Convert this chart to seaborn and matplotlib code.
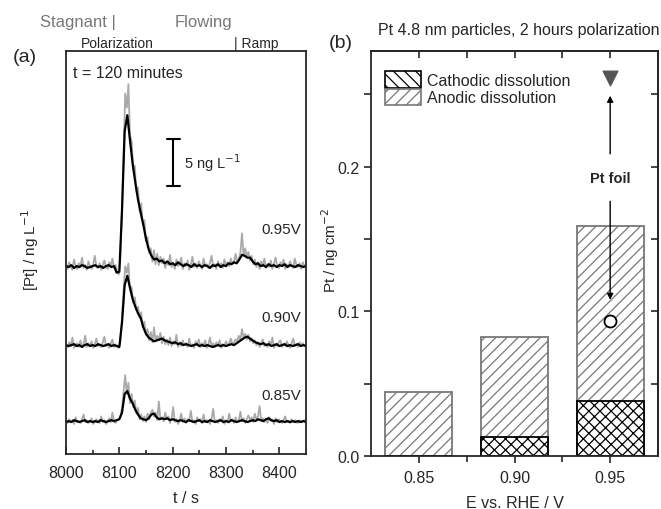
import numpy as np
import pandas as pd
import matplotlib
matplotlib.use("Agg")
import matplotlib.pyplot as plt
from matplotlib.patches import Patch
import seaborn as sns

# ---------------- data ----------------
# smoothed traces (ng/L above baseline), 5 s spacing, 8000..8450 s
smooth_095 = [0.1,0.0,0.2,-0.1,0.1,0.0,0.2,0.1,-0.1,0.0,0.1,0.2,0.0,0.1,-0.1,0.1,0.2,0.0,0.1,-0.6,
              -0.5,6.0,14.5,16.2,13.5,11.0,9.0,7.2,5.8,4.5,3.0,1.9,1.2,0.8,0.9,0.6,0.7,0.4,0.6,0.3,
              0.4,0.2,0.5,0.3,0.1,0.3,0.2,0.0,0.3,0.1,0.2,0.0,0.2,0.1,-0.1,0.2,0.1,0.3,0.0,0.2,
              0.1,0.4,0.3,0.5,0.4,0.8,1.3,1.2,1.0,1.0,0.6,0.3,0.4,0.1,0.2,0.0,0.3,0.1,0.2,0.0,
              0.2,0.1,0.3,0.0,0.2,0.1,0.0,0.2,0.1,0.0,0.1]
smooth_090 = [0.1,0.0,0.1,0.2,0.0,0.1,-0.1,0.1,0.2,0.0,0.1,0.0,0.2,0.1,0.0,0.1,0.2,0.0,0.1,0.0,
              -0.1,2.5,6.5,7.5,6.2,5.0,4.2,3.5,3.0,2.0,1.3,0.9,0.7,0.5,0.6,0.7,0.8,0.6,0.5,0.4,
              0.3,0.4,0.2,0.3,0.1,0.2,0.1,0.0,0.1,0.2,0.0,0.1,0.0,0.1,0.0,-0.1,0.0,0.1,0.0,0.1,
              0.0,0.1,0.2,0.1,0.3,0.5,0.7,0.9,1.0,0.8,0.6,0.4,0.3,0.2,0.3,0.1,0.2,0.0,0.1,0.2,
              0.0,0.1,0.2,0.0,0.1,0.0,0.1,0.2,0.0,0.1,0.0]
smooth_085 = [0.0,0.1,0.0,0.2,0.1,0.0,0.1,0.2,0.0,0.1,0.0,0.1,0.0,0.2,0.1,0.0,0.1,0.2,0.1,0.2,
              0.3,1.0,3.0,3.3,2.5,2.0,1.3,0.8,0.4,0.3,0.2,0.4,0.8,0.9,0.5,0.3,0.4,0.3,0.4,0.2,
              0.3,0.2,0.1,0.2,0.1,0.0,0.2,0.1,0.0,0.1,0.2,0.0,0.1,0.0,0.2,0.1,0.0,0.1,0.2,0.0,
              0.1,0.0,0.2,0.1,0.0,0.1,0.2,0.1,0.0,0.1,0.2,0.1,0.3,0.2,0.1,0.3,0.4,0.2,0.1,0.2,
              0.0,0.1,0.0,0.1,0.0,0.1,0.0,0.1,0.0,0.1,0.0]

# raw traces (ng/L above baseline), 3 s spacing, 8000..8450 s
raw_095 = [0.3,-0.2,0.5,0.0,-0.3,0.8,0.1,-0.2,0.4,0.0,1.0,-0.1,0.2,-0.3,0.6,0.1,-0.2,0.3,1.2,0.0,
           -0.1,0.4,-0.3,0.2,0.7,0.0,-0.2,0.5,0.1,0.9,-0.1,0.2,-0.5,-0.8,1.0,6.5,12.0,18.5,17.0,19.5,
           14.0,13.5,10.5,10.8,8.0,8.5,6.0,6.8,4.5,5.0,2.8,3.2,1.5,2.0,0.6,1.8,0.3,1.4,0.2,1.1,
           0.4,0.9,-0.1,0.6,0.2,1.3,0.0,0.5,-0.2,0.8,0.1,0.3,1.0,-0.2,0.4,0.1,0.7,-0.3,0.2,1.1,
           0.0,0.4,-0.1,0.6,0.2,-0.2,0.9,0.1,0.3,-0.1,0.5,1.2,0.0,0.3,-0.2,0.6,0.1,0.4,-0.1,0.8,
           0.2,0.5,0.1,0.9,0.3,0.6,1.4,0.4,0.9,1.5,3.6,1.2,2.0,1.0,1.6,0.7,1.2,0.3,0.8,0.0,
           0.5,-0.2,0.6,0.1,0.9,-0.1,0.3,0.0,0.7,-0.2,0.4,1.0,0.1,-0.1,0.5,0.2,0.8,-0.2,0.3,0.0,
           0.6,0.1,-0.1,0.9,0.2,0.0,0.4,-0.2,0.5,0.1,0.3]
raw_090 = [0.2,-0.1,0.4,0.0,0.9,-0.2,0.1,0.3,-0.1,0.6,0.0,0.2,1.1,-0.1,0.3,0.0,0.5,-0.2,0.2,0.8,
           0.0,0.1,-0.1,0.4,1.0,0.0,0.2,-0.2,0.3,0.7,-0.1,0.2,0.0,-0.2,0.5,3.0,6.0,8.5,7.8,8.8,
           6.0,6.3,4.6,5.2,3.8,4.2,3.0,3.6,2.0,2.6,1.2,1.8,0.6,1.5,0.4,2.0,0.5,1.1,0.6,1.4,
           0.3,1.0,0.2,0.7,0.1,0.9,0.0,0.5,0.2,1.2,-0.1,0.4,0.0,0.6,0.1,0.3,-0.1,0.8,0.0,0.2,
           -0.2,0.5,0.1,0.7,-0.1,0.3,0.0,0.6,-0.2,0.2,0.9,0.0,0.3,-0.1,0.4,0.1,0.6,-0.2,0.2,0.0,
           0.5,0.1,0.3,0.8,0.2,0.4,0.7,0.5,1.1,0.6,1.8,0.9,1.3,0.7,1.2,0.5,0.8,0.3,0.6,0.1,
           0.4,-0.1,0.3,0.7,0.0,0.2,-0.1,0.5,0.1,0.9,-0.2,0.2,0.0,0.4,0.6,-0.1,0.2,0.0,0.5,0.1,
           -0.2,0.3,0.8,0.0,0.2,-0.1,0.4,0.1,0.3,0.0,0.2]
raw_085 = [0.1,-0.1,0.3,0.0,0.2,-0.2,0.5,0.0,0.1,-0.1,0.3,0.8,0.0,0.2,-0.1,0.1,0.4,-0.2,0.0,0.3,
           0.1,-0.1,0.6,0.0,0.2,-0.2,0.1,0.4,0.0,1.0,0.1,-0.1,0.2,0.3,0.6,1.5,3.2,5.0,3.0,4.2,
           2.0,3.0,1.6,2.3,0.9,1.5,0.3,0.8,0.1,0.6,0.0,0.9,0.3,1.0,1.3,0.6,1.0,0.2,2.2,0.3,
           0.5,0.1,1.0,0.3,0.6,-0.1,0.4,1.6,0.0,0.3,-0.2,0.2,0.9,0.0,0.4,-0.1,0.3,0.1,1.2,0.0,
           0.2,-0.2,0.5,0.1,0.3,-0.1,0.8,0.0,0.2,0.1,-0.2,0.4,1.4,0.0,0.2,-0.1,0.3,0.1,0.6,-0.2,
           0.2,0.0,0.9,0.1,0.3,-0.1,0.5,0.0,0.2,1.1,0.1,0.4,-0.1,0.3,0.7,0.2,0.5,0.0,0.9,0.3,
           0.6,1.7,0.2,0.4,0.0,0.3,-0.1,0.5,0.1,0.2,-0.2,0.4,0.0,0.3,0.1,-0.1,0.2,0.6,0.0,0.1,
           -0.1,0.3,0.0,0.2,0.1,-0.1,0.2,0.0,0.1,0.2,0.0]

trace_labels = ["0.95V", "0.90V", "0.85V"]

# panel (b)
potentials = ["0.85", "0.90", "0.95"]
total_dissolution = [0.044, 0.082, 0.159]     # anodic + cathodic (bar top)
cathodic_dissolution = [0.0, 0.013, 0.038]
pt_foil_cathodic = 0.261   # triangle
pt_foil_anodic = 0.093     # circle
scale_bar_value = 5

# ---------------- style ----------------
sns.set_theme(style="ticks")
plt.rcParams["font.family"] = ["Liberation Sans", "DejaVu Sans"]
plt.rcParams["axes.linewidth"] = 1.3
plt.rcParams["hatch.linewidth"] = 0.9

W, H = 661, 510
fig = plt.figure(figsize=(W / 100, H / 100), dpi=100)

def fx(px):
    return px / W

def fy(py):
    return 1 - py / H

# ---------------- panel (a) ----------------
axa = fig.add_axes([fx(66), fy(455), (306 - 66) / W, (455 - 52) / H])
baselines = [19.95, 11.52, 3.41]
smooths = [smooth_095, smooth_090, smooth_085]
raws = [raw_095, raw_090, raw_085]
label_y = [24.0, 14.6, 6.3]
for base, sm, rw, lab, ly in zip(baselines, smooths, raws, trace_labels, label_y):
    t_raw = np.linspace(8000, 8450, len(rw))
    t_sm = np.linspace(8000, 8450, len(sm))
    sns.lineplot(x=t_raw, y=np.array(rw) + base, ax=axa, color="#a9a9a9",
                 lw=1.3, estimator=None, sort=False)
    sns.lineplot(x=t_sm, y=np.array(sm) + base, ax=axa, color="black",
                 lw=1.6, estimator=None, sort=False)
    axa.text(8441, ly, lab, ha="right", va="center", fontsize=11)

axa.set_xlim(8000, 8450)
axa.set_ylim(0, 43)
axa.set_xticks([8000, 8100, 8200, 8300, 8400])
axa.set_xticks([8050, 8150, 8250, 8350], minor=True)
axa.set_yticks([])
axa.tick_params(axis="x", direction="in", length=5, width=1.2, labelsize=11.5, pad=8)
axa.tick_params(axis="x", which="minor", direction="in", length=3, width=1.2)
axa.set_xlabel("")
axa.set_ylabel("")
for s in axa.spines.values():
    s.set_visible(True)
    s.set_linewidth(1.3)

# scale bar
sb_x, sb_lo = 8201, 28.6
axa.plot([sb_x, sb_x], [sb_lo, sb_lo + scale_bar_value], color="black", lw=1.5)
axa.plot([sb_x - 12, sb_x + 12], [sb_lo, sb_lo], color="black", lw=1.5)
axa.plot([sb_x - 12, sb_x + 12], [sb_lo + scale_bar_value] * 2, color="black", lw=1.5)
axa.text(8222, sb_lo + scale_bar_value / 2, "5 ng L$^{-1}$", ha="left", va="center", fontsize=10.5)
axa.text(0.03, 0.965, "t = 120 minutes", transform=axa.transAxes, ha="left", va="top", fontsize=11.5)

# ---------------- panel (b) ----------------
axb = fig.add_axes([fx(371), fy(457), (658 - 371) / W, (457 - 52) / H])
dfb = pd.DataFrame({"E": potentials, "total": total_dissolution, "cath": cathodic_dissolution})
sns.barplot(data=dfb, x="E", y="total", ax=axb, color="white", width=0.7,
            edgecolor="#777777", linewidth=1.3, hatch="///", saturation=1)
n_first = len(axb.patches)
sns.barplot(data=dfb, x="E", y="cath", ax=axb, color="white", width=0.7,
            edgecolor="black", linewidth=1.3, hatch="xxx", saturation=1)
for p in axb.patches[n_first:]:
    p.set_facecolor("white")
    p.set_edgecolor("black")

axb.scatter([2], [pt_foil_cathodic], marker="v", s=110, color="#555555", zorder=5)
axb.scatter([2], [pt_foil_anodic], marker="o", s=75, facecolor="white",
            edgecolor="black", linewidth=1.3, zorder=5)
axb.annotate("", xy=(2, 0.251), xytext=(2, 0.207),
             arrowprops=dict(arrowstyle="-|>", color="black", lw=1.0, mutation_scale=9))
axb.annotate("", xy=(2, 0.106), xytext=(2, 0.178),
             arrowprops=dict(arrowstyle="-|>", color="black", lw=1.0, mutation_scale=9))
axb.text(2, 0.192, "Pt foil", ha="center", va="center", fontsize=10.5, fontweight="bold")

axb.set_xlim(-0.5, 2.5)
axb.set_ylim(0, 0.28)
axb.set_xticks([0, 1, 2])
axb.set_xticklabels(potentials)
axb.set_xticks([0.5, 1.5], minor=True)
axb.set_yticks([0, 0.05, 0.1, 0.15, 0.2, 0.25])
axb.set_yticklabels(["0.0", "", "0.1", "", "0.2", ""])
axb.tick_params(axis="both", direction="out", length=5, width=1.2, labelsize=11.5)
axb.tick_params(axis="x", which="minor", direction="out", length=4, width=1.2)
axb.tick_params(axis="x", pad=5)
axb.set_xlabel("")
axb.set_ylabel("")
for s in axb.spines.values():
    s.set_visible(True)
    s.set_linewidth(1.3)

top = axb.secondary_xaxis("top")
top.set_xticks([0, 0.5, 1, 1.5, 2])
top.tick_params(direction="in", length=5, width=1.2, labeltop=False)
right = axb.secondary_yaxis("right")
right.set_yticks([0.05, 0.1, 0.15, 0.2, 0.25])
right.tick_params(direction="in", length=5, width=1.2, labelright=False)

handles = [Patch(facecolor="white", edgecolor="black", hatch="\\\\\\", linewidth=1.2,
                 label="Cathodic dissolution"),
           Patch(facecolor="white", edgecolor="#777777", hatch="///", linewidth=1.2,
                 label="Anodic dissolution")]
axb.legend(handles=handles, loc="upper left", bbox_to_anchor=(0.0, 0.985), frameon=False,
           fontsize=11.5, handlelength=2.2, handleheight=1.2, handletextpad=0.4,
           labelspacing=0.05, borderaxespad=0.5)

# ---------------- figure texts ----------------
fig.text(fx(40), fy(23), "Stagnant |", color="#777777", fontsize=12, ha="left", va="center")
fig.text(fx(175), fy(23), "Flowing", color="#777777", fontsize=12, ha="left", va="center")
fig.text(fx(81), fy(44), "Polarization", fontsize=10, ha="left", va="center")
fig.text(fx(234), fy(44), "| Ramp", fontsize=10, ha="left", va="center")
fig.text(fx(13), fy(57), "(a)", fontsize=14, ha="left", va="center")
fig.text(fx(329), fy(43), "(b)", fontsize=14, ha="left", va="center")
fig.text(fx(378), fy(31), "Pt 4.8 nm particles, 2 hours polarization", fontsize=11.5,
         ha="left", va="center")
fig.text(fx(30), fy(250), "[Pt] / ng L$^{-1}$", rotation=90, fontsize=11, ha="center", va="center")
fig.text(fx(330), fy(250), "Pt / ng cm$^{-2}$", rotation=90, fontsize=11, ha="center", va="center")
fig.text(fx(186), fy(499), "t / s", fontsize=11.5, ha="center", va="center")
fig.text(fx(515), fy(504), "E vs. RHE / V", fontsize=11.5, ha="center", va="center")

fig.savefig("out.png", dpi=100)
